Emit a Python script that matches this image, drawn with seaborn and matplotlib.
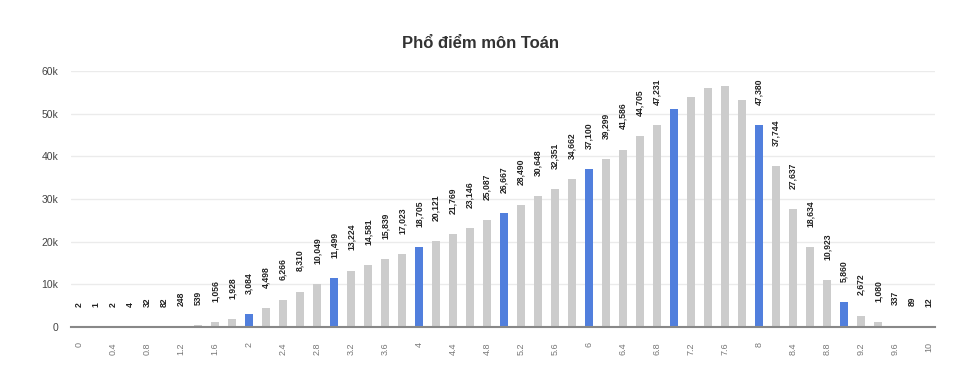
import matplotlib
matplotlib.use("Agg")
import matplotlib.pyplot as plt
import seaborn as sns
import pandas as pd

scores = ["0", "0.2", "0.4", "0.6", "0.8", "1", "1.2", "1.4", "1.6", "1.8",
          "2", "2.2", "2.4", "2.6", "2.8", "3", "3.2", "3.4", "3.6", "3.8",
          "4", "4.2", "4.4", "4.6", "4.8", "5", "5.2", "5.4", "5.6", "5.8",
          "6", "6.2", "6.4", "6.6", "6.8", "7", "7.2", "7.4", "7.6", "7.8",
          "8", "8.2", "8.4", "8.6", "8.8", "9", "9.2", "9.4", "9.6", "9.8", "10"]
counts = [2, 1, 2, 4, 32, 82, 248, 539, 1056, 1928,
          3084, 4498, 6266, 8310, 10049, 11499, 13224, 14581, 15839, 17023,
          18705, 20121, 21769, 23146, 25087, 26667, 28490, 30648, 32351, 34662,
          37100, 39299, 41586, 44705, 47231, 51200, 53900, 56100, 56500, 53200,
          47380, 37744, 27637, 18634, 10923, 5860, 2672, 1080, 337, 89, 12]
highlight = ["2", "3", "4", "5", "6", "7", "8", "9"]
unlabeled = ["7", "7.2", "7.4", "7.6", "7.8"]
tick_labels = scores[::2]
y_ticks = [0, 10000, 20000, 30000, 40000, 50000, 60000]
y_tick_labels = ["0", "10k", "20k", "30k", "40k", "50k", "60k"]
title = "Phổ điểm môn Toán"

df = pd.DataFrame({"score": scores, "count": counts})
df["group"] = ["hl" if s in highlight else "base" for s in scores]

sns.set_style("white")
plt.rcParams["font.family"] = ["Liberation Sans", "DejaVu Sans"]

fig = plt.figure(figsize=(9.61, 3.74), dpi=100)
ax = fig.add_axes([71 / 961, 1 - 327 / 374, (935 - 71) / 961, (327 - 71) / 374])

sns.barplot(data=df, x="score", y="count", hue="group", order=scores,
            palette={"base": "#cccccc", "hl": "#517fdd"}, dodge=False,
            saturation=1, width=0.5, legend=False, ax=ax, linewidth=0, zorder=3)

for i, (s, c) in enumerate(zip(scores, counts)):
    if s in unlabeled:
        continue
    ax.annotate(f"{c:,}", xy=(i, c), xytext=(0, 14.5), textcoords="offset points",
                rotation=90, ha="center", va="bottom", fontsize=6.2,
                fontweight="bold", color="#222222")

ax.set_xlim(-0.47, 50.35)
ax.set_ylim(0, 60000)
ax.set_yticks(y_ticks)
ax.set_yticklabels(y_tick_labels, fontsize=7.5, color="#444444")
ax.set_xticks(range(0, len(scores), 2))
ax.set_xticklabels(tick_labels, rotation=90, fontsize=6.5, color="#777777")
ax.tick_params(axis="both", length=0)
ax.tick_params(axis="y", pad=9)
ax.tick_params(axis="x", pad=11)
ax.set_xlabel("")
ax.set_ylabel("")
ax.grid(axis="y", color="#ebebeb", linewidth=1, zorder=0)
ax.set_axisbelow(True)
for sp in ["top", "right", "left"]:
    ax.spines[sp].set_visible(False)
ax.spines["bottom"].set_color("#888888")
ax.spines["bottom"].set_linewidth(1.5)
ax.spines["bottom"].set_zorder(4)

fig.text(481 / 961, 1 - 44 / 374, title, ha="center", va="center",
         fontsize=12, fontweight="bold", color="#333333")

fig.savefig("out.png", dpi=100, facecolor="white")
